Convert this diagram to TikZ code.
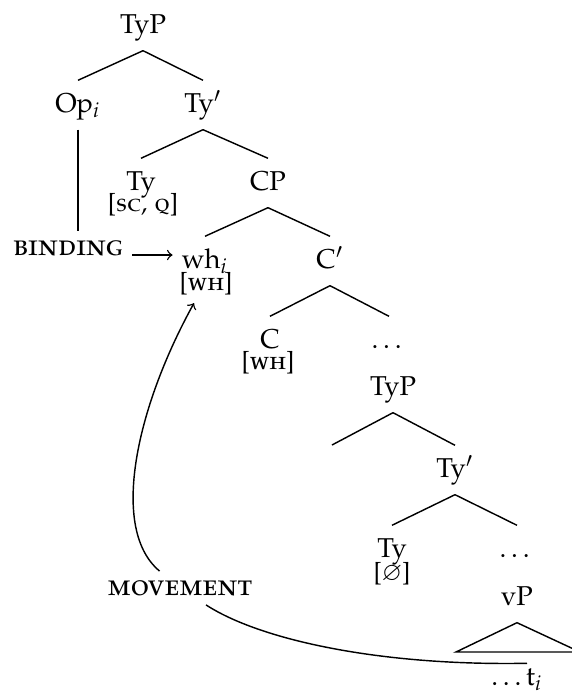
\documentclass[tikz,border=0pt]{standalone}
\usepackage[T1]{fontenc}
\usepackage[sc]{mathpazo}
\usepackage{amssymb}

\tikzset{
	lbl/.style	= {anchor=base, text height=8.6pt, text depth=3.2pt, font=\fontsize{10.5}{12.6}\selectfont},
	feat/.style	= {anchor=base, inner sep=1pt, font=\fontsize{9.6}{11}\selectfont\scshape},
	tag/.style	= {anchor=base, font=\fontsize{11.5}{13.8}\selectfont\scshape},
}

\begin{document}
\begin{tikzpicture}[x=0.385pt, y=-0.385pt, line width=0.55pt]
					\useasboundingbox (0,0) rectangle (572,691);
					
					% upper tree
					\node[lbl] (typ) at (143,33) {TyP};
					\node[lbl] (op) at (78,112) {Op$_i$};
					\node[lbl] (tyb) at (203,112) {Ty$'$};
					\node[lbl] (ty) at (141,190) {Ty};
					\node[feat] (sc) at (143,211) {[sc, q]};
					\node[lbl] (cp) at (268,190) {CP};
					\node[lbl] (wh) at (205,268) {wh$_i$};
					\node[feat] (whf) at (206,290) {[wh]};
					\node[lbl] (cb) at (330,268) {C$'$};
					\node[lbl] (c) at (270,348) {C};
					\node[feat] (cf) at (268,369) {[wh]};
					\node[lbl] (dots) at (389,348) {\dots};
					
					% lower tree
					\node[lbl] (typ2) at (393,395) {TyP};
					\coordinate (gap) at (332,445);
					\node[lbl] (tyb2) at (455,477) {Ty$'$};
					\node[lbl] (ty2) at (392,557) {Ty};
					\node[feat] (nul) at (392,580) {[$\varnothing$]};
					\node[lbl] (dots2) at (517,557) {\dots};
					\node[lbl] (vp) at (517,605) {vP};
					\node[lbl] (ti) at (517,685) {\dots t$_i$};
					\coordinate (triL) at (456,652);
					\coordinate (triR) at (580,652);
					
					\foreach \p/\c in {typ/op,typ/tyb,tyb/ty,tyb/cp,cp/wh,cp/cb,cb/c,cb/dots,typ2/tyb2,tyb2/ty2,tyb2/dots2}{\draw (\p.south) -- (\c.north);};
					\draw (typ2.south) -- (gap);
					\draw (vp.south) -- (triL) -- (triR) -- cycle;
					
					% binding and movement
					\node[tag] (bind) at (68,255) {binding};
					\node[tag] (mov) at (180,595) {movement};
					\draw (op.south) -- (op.south |- bind.north);
					\draw[->] (bind.base east) -- (bind.base east -| wh.west);
					\draw ([shift={(10,10)}]ti.north) .. controls (380,666) and (260,640) .. (mov);
					\draw[->] (mov) .. controls (110,530) and (135,410) .. ([shift={(-12,5)}]whf.south);
				\end{tikzpicture}
\end{document}
